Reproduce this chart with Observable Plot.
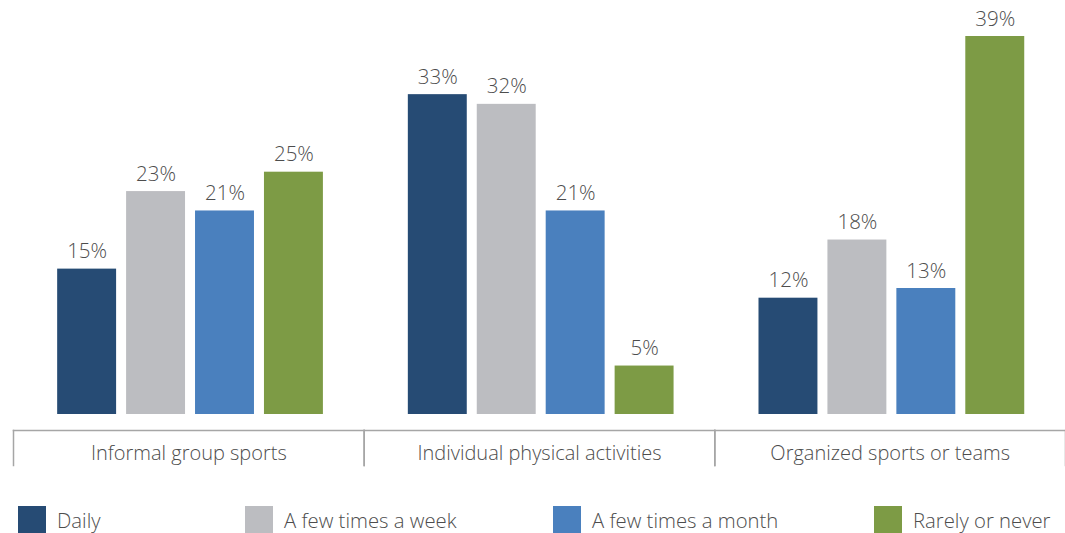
<!DOCTYPE html>
<html><head><meta charset="utf-8">
<script src="https://cdn.jsdelivr.net/npm/d3@7"></script>
<script src="https://cdn.jsdelivr.net/npm/@observablehq/plot@0.6"></script>
<style>
body{margin:0;background:#fff;font-family:"Open Sans",sans-serif;}
#legend{position:relative;width:1065px;height:43px;}
.item{position:absolute;top:16px;height:27px;display:flex;align-items:center;font-size:20.3px;font-weight:300;color:#4d4d4d;white-space:nowrap;}
.sw{width:28px;height:27px;margin-right:11px;flex:none;}
</style></head><body>
<div id="chart"></div><div id="legend"></div>
<script>
const groups = ["Informal group sports", "Individual physical activities", "Organized sports or teams"];
const series = ["Daily", "A few times a week", "A few times a month", "Rarely or never"];
const daily = [15, 33, 12];
const week = [23, 32, 18];
const month = [21, 21, 13];
const rarely = [25, 5, 39];
const colors = ["#264b74", "#bcbdc1", "#4a80be", "#7d9b45"];

const values = [daily, week, month, rarely];
const data = [];
series.forEach((s, si) => values[si].forEach((v, gi) => data.push({group: groups[gi], series: s, value: v})));

const axisColor = "#a6a6a6";
const textColor = "#4d4d4d";
const chart = Plot.plot({
  width: 1065, height: 490,
  marginLeft: 13, marginRight: 0, marginTop: 0, marginBottom: 60,
  style: {fontFamily: "Open Sans", fontSize: "20px", fontWeight: 300, color: textColor, background: "#fff"},
  fx: {domain: groups, padding: 0, round: false, label: null},
  x: {domain: series, paddingInner: 0.145, paddingOuter: 0.616, align: 0.52, round: false, axis: null},
  y: {domain: [0, 39], range: [414, 36], axis: null},
  color: {domain: series, range: colors},
  marks: [
    Plot.barY(data, {fx: "group", x: "series", y: "value", fill: "series"}),
    Plot.text(data, {fx: "group", x: "series", y: "value", text: d => d.value + "%", lineAnchor: "bottom", dy: -11, fill: textColor, fontSize: 20.5, fontWeight: 300}),
    Plot.frame({anchor: "bottom", stroke: axisColor, strokeWidth: 1.5}),
    Plot.frame({anchor: "left", stroke: axisColor, strokeWidth: 1.5, insetTop: 430, insetBottom: -35}),
    Plot.frame({anchor: "right", stroke: axisColor, strokeWidth: 1.5, insetTop: 430, insetBottom: -35}),
    Plot.axisFx({anchor: "bottom", tickSize: 0, tickPadding: 15, fontSize: 20, fontWeight: 300, label: null, fill: textColor})
  ]
});
document.getElementById("chart").appendChild(chart);

const legendLeft = [18, 245, 553, 874];
const legend = document.getElementById("legend");
series.forEach((s, i) => {
  const it = document.createElement("div");
  it.className = "item";
  it.style.left = legendLeft[i] + "px";
  it.innerHTML = `<div class="sw" style="background:${colors[i]}"></div><span>${s}</span>`;
  legend.appendChild(it);
});
</script>
</body></html>
